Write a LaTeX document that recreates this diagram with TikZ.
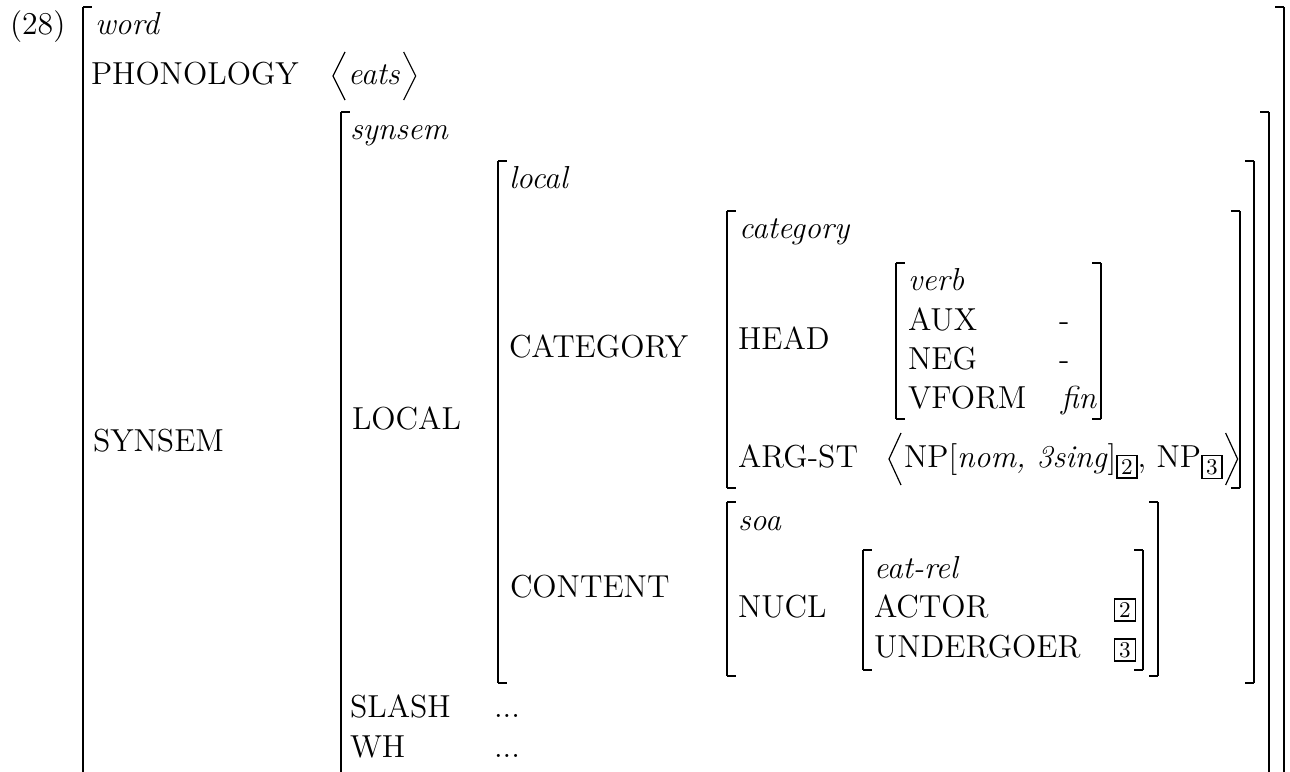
\documentclass[tikz,border=0pt]{standalone}
\usetikzlibrary{calc}

% boxed index used as a subscript
\newcommand\boxedsub[1]{\raisebox{-2.7pt}{\fontsize{8.5}{9}\selectfont\setlength\fboxsep{1.1pt}\setlength\fboxrule{0.55pt}\fbox{\makebox[4.8pt]{#1}}}}

% AVM brackets: x, top, bottom
\newcommand\brL[3]{\draw[stem] (#1,#2) -- (#1,#3); \draw[arm] (#1,#2) -- ++(9,0); \draw[arm] (#1,#3) -- ++(9,0);}
\newcommand\brR[3]{\draw[stem] (#1,#2) -- (#1,#3); \draw[arm] (#1,#2) -- ++(-9,0); \draw[arm] (#1,#3) -- ++(-9,0);}
% brackets running on past the lower edge: x, top
\newcommand\brLo[2]{\draw[stem] (#1,#2) -- (#1,790); \draw[arm] (#1,#2) -- ++(9,0);}
\newcommand\brRo[2]{\draw[stem] (#1,#2) -- (#1,790); \draw[arm] (#1,#2) -- ++(-9,0);}

\begin{document}
\begin{tikzpicture}[x=0.3774pt, y=-0.3774pt,
  font=\fontsize{12}{14.5}\selectfont,
  feat/.style={anchor=base west, inner sep=0pt, outer sep=0pt},
  sort/.style={feat, font=\fontsize{12}{14.5}\selectfont\itshape},
  stem/.style={line width=0.9pt},
  arm/.style={line width=0.5pt},
  chev/.style={line width=0.45pt, line join=miter},
  tagnode/.style={draw, line width=0.55pt, inner sep=0pt, minimum width=8pt,
    minimum height=8.3pt, font=\fontsize{8.5}{9}\selectfont}]

\useasboundingbox (0,0) rectangle (1290,772);
\clip (0,0) rectangle (1290,772);

% ---- word ----
\node[feat] (ex) at (10,34.6) {(28)};
\node[sort] (word) at (95,34.6) {word};
\node[feat] (phon) at (91,84.2) {PHONOLOGY};
\node[sort] (eats) at (348,84.2) {eats};
\draw[chev] (345,52) -- (333,76) -- (345,100);
\draw[chev] ($(eats.base east)+(4,-32.2)$) -- ++(12,24) -- ++(-12,24);
\node[feat] (synsemF) at (93,451) {SYNSEM};
\brLo{83}{7}
\brRo{1284}{7}

% ---- synsem ----
\node[sort] (synsemT) at (350,139.6) {synsem};
\node[feat] (localF) at (352,429) {LOCAL};
\node[feat] (slash) at (350,717) {SLASH};
\node[feat] (slashV) at (494,717) {...};
\node[feat] (wh) at (350,757) {WH};
\node[feat] (whV) at (494,757) {...};
\brLo{341}{112}
\brRo{1269}{112}

% ---- local ----
\node[sort] (localT) at (509,188.6) {local};
\node[feat] (catF) at (509,357.5) {CATEGORY};
\node[feat] (contF) at (510,597) {CONTENT};
\brL{498}{161}{683}
\brR{1254}{161}{683}

% ---- category ----
\node[sort] (catT) at (739,238.6) {category};
\node[feat] (headF) at (738,349) {HEAD};
\node[feat] (argst) at (738,467) {ARG-ST};
\node[feat] (argV) at (904,467) {NP[\textit{nom, 3sing}]\boxedsub{2}, NP\boxedsub{3}};
\draw[chev] (901,433) -- (889,459) -- (901,485);
\draw[chev] ($(argV.base east)+(3,-34)$) -- ++(12,26) -- ++(-12,26);
\brL{727}{211}{488}
\brR{1240}{211}{488}

% ---- verb ----
\node[sort] (verbT) at (908,290.6) {verb};
\node[feat] (aux) at (908,330) {AUX};
\node[feat] (auxV) at (1059,330) {-};
\node[feat] (neg) at (908,369.4) {NEG};
\node[feat] (negV) at (1059,369.4) {-};
\node[feat] (vform) at (908,408.8) {VFORM};
\node[sort] (vformV) at (1061,408.8) {fin};
\brL{896}{263}{419}
\brR{1101}{263}{419}

% ---- content ----
\node[sort] (soaT) at (738,530) {soa};
\node[feat] (nucl) at (738,617.5) {NUCL};
\brL{727}{502}{676}
\brR{1158}{502}{676}

% ---- eat-rel ----
\node[sort] (eatT) at (874,578) {eat-rel};
\node[feat] (actor) at (874,617.5) {ACTOR};
\node[feat] (under) at (874,657) {UNDERGOER};
\node[tagnode] (tagA) at (1125,610) {2};
\node[tagnode] (tagU) at (1125,650) {3};
\brL{863}{550}{670}
\brR{1143}{550}{670}

\end{tikzpicture}
\end{document}
